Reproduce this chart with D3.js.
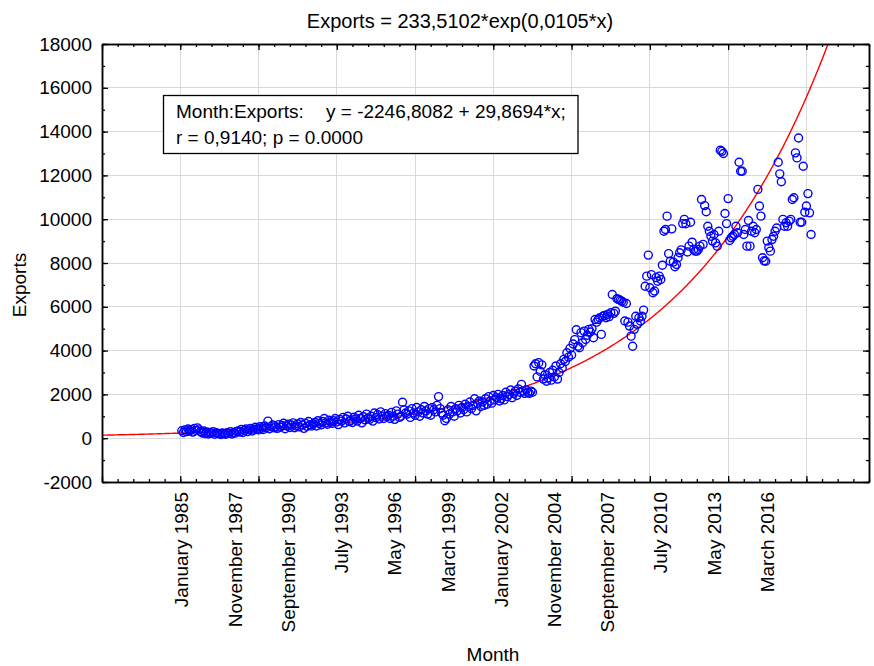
<!DOCTYPE html>
<html><head><meta charset="utf-8">
<script src="https://cdn.jsdelivr.net/npm/d3@7"></script>
<style>
body{margin:0;background:#fff}
text{font-family:"Liberation Sans",Arial,sans-serif;fill:#000}
</style>
</head><body><svg id="c" width="874" height="666"></svg>
<script>
// ---- data (month index 1 = January 1985) ----
const exportsValues = [
 340,260,380,300,420,330,390,280,450,350,470,380,
 300,240,330,210,280,190,260,230,300,180,250,220,
 200,170,240,210,180,250,220,300,190,260,230,310,
 330,280,400,260,350,420,300,380,450,330,410,500,
 420,380,520,460,400,560,480,780,430,530,600,470,
 520,450,620,500,580,680,430,560,640,490,600,700,
 480,560,650,520,720,600,450,680,540,760,620,560,
 650,720,560,800,680,610,760,900,700,640,820,740,
 680,800,900,740,620,860,780,950,700,880,1000,760,
 820,720,960,880,780,1050,900,700,980,840,1100,920,
 860,1000,780,1150,940,1080,880,1200,1000,900,1120,980,
 1050,900,1180,1000,860,1250,1100,950,1000,1640,1300,1150,
 1100,1250,950,1350,1150,1050,1400,1200,1000,1300,1150,1450,
 1250,1100,1350,1050,1400,1300,1200,1500,1900,1350,1150,1050,
 800,900,1300,1100,1450,1200,1000,1350,1250,1500,1150,1400,
 1300,1550,1200,1450,1650,1350,1500,1800,1250,1600,1700,1450,
 1650,1500,1800,1550,1900,1700,1600,1950,1750,1850,2000,1700,
 1800,1950,1750,2100,1900,2000,2200,1850,2050,2150,1950,2250,
 2100,2460,2150,2050,2200,2100,2050,2150,2100,3300,3400,2800,
 3450,3050,3350,2700,2900,2600,2750,3000,2650,3100,2800,3300,
 2700,3000,3400,3200,3600,3500,3900,3700,4100,3800,4300,4500,
 4950,4200,4130,4820,4360,4890,4510,4700,4970,4850,5000,4590,
 5420,5300,5420,5500,4740,5570,5600,5500,5650,5550,5730,6560,
 5700,5800,6370,6340,6300,6260,6210,5350,6150,5300,5120,4660,
 4200,4970,5570,5200,5500,5350,5570,5850,6940,7400,8360,6870,
 7470,6640,6720,7330,7170,7400,7250,7900,9450,9530,10140,8430,
 8080,9560,8040,7830,7930,8240,8470,8600,9800,9990,9790,8500,
 8770,9860,8950,8620,8540,8540,8620,8770,10900,8850,10620,10340,
 9680,9450,9220,9000,9300,8920,8770,9450,13150,13100,13000,10260,
 9800,10940,9030,9150,9220,9300,9680,9380,12600,12190,12190,9300,
 9530,8770,9940,8770,9450,9680,9380,9530,11360,10600,10140,8240,
 8100,8080,9000,8700,8540,9070,9220,9450,9600,12600,12070,11710,
 9990,9680,9840,9680,9910,9990,10900,10980,13030,12800,13710,9860,
 9860,12420,10320,10600,11170,10290,9300
];
const labelIndices = [1,35,69,103,137,171,205,239,273,307,341,375];
const labelTexts = ["January 1985","November 1987","September 1990","July 1993","May 1996","March 1999",
  "January 2002","November 2004","September 2007","July 2010","May 2013","March 2016"];
const yTickValues = [-2000,0,2000,4000,6000,8000,10000,12000,14000,16000,18000];
const fitA = 233.5102, fitB = 0.0105;
const titleText = "Exports = 233,5102*exp(0,0105*x)";
const legendLine1a = "Month:Exports:";
const legendLine1b = "y = -2246,8082 + 29,8694*x;";
const legendLine2 = "r = 0,9140; p = 0.0000";

// ---- layout ----
const svg = d3.select("#c");
const L=102, R=869, T=44, B=482;
const x = d3.scaleLinear().domain([-50,440]).range([L,R]);
const y = d3.scaleLinear().domain([-2000,18000]).range([B,T]);
const FS = 19;

// grid
const gx = d3.range(0,441,50).filter(v=>v>-50 && v<440);
svg.append("g").selectAll("line").data(gx).join("line")
  .attr("x1",d=>x(d)).attr("x2",d=>x(d)).attr("y1",T).attr("y2",B)
  .attr("stroke","#d9d9d9").attr("stroke-width",1).attr("shape-rendering","crispEdges");
svg.append("g").selectAll("line").data(yTickValues.filter(v=>v>-2000&&v<18000)).join("line")
  .attr("x1",L).attr("x2",R).attr("y1",d=>y(d)).attr("y2",d=>y(d))
  .attr("stroke","#d9d9d9").attr("stroke-width",1).attr("shape-rendering","crispEdges");

// clip
svg.append("clipPath").attr("id","pc").append("rect").attr("x",L).attr("y",T).attr("width",R-L).attr("height",B-T);

// fit curve
const curvePts = d3.range(-50,440.01,0.5).map(v=>[v,fitA*Math.exp(fitB*v)]);
svg.append("path").attr("clip-path","url(#pc)")
  .attr("d", d3.line().x(d=>x(d[0])).y(d=>y(d[1]))(curvePts))
  .attr("fill","none").attr("stroke","#ff0000").attr("stroke-width",1.4);

// points
svg.append("g").attr("clip-path","url(#pc)").selectAll("circle")
  .data(exportsValues.map((v,i)=>[i+1,v])).join("circle")
  .attr("cx",d=>x(d[0])).attr("cy",d=>y(d[1])).attr("r",4)
  .attr("fill","none").attr("stroke","#0000ff").attr("stroke-width",1.4);

// axes frame with inward ticks
function axisG(axis, tr){
  const g = svg.append("g").attr("transform",tr).call(axis);
  g.selectAll("path.domain").attr("stroke","#000").attr("stroke-width",1.5);
  g.selectAll(".tick line").attr("stroke","#000").attr("stroke-width",1.3);
  return g;
}
const xMajor = d3.range(-50,441,50), xMinor = d3.range(-50,441,10);
const yMinor = d3.range(-2000,18001,1000);
// minor
axisG(d3.axisBottom(x).tickValues(xMinor).tickSize(-3).tickFormat("").tickSizeOuter(0), `translate(0,${B})`);
axisG(d3.axisTop(x).tickValues(xMinor).tickSize(-3).tickFormat("").tickSizeOuter(0), `translate(0,${T})`);
axisG(d3.axisLeft(y).tickValues(yMinor).tickSize(-3).tickFormat("").tickSizeOuter(0), `translate(${L},0)`);
axisG(d3.axisRight(y).tickValues(yMinor).tickSize(-3).tickFormat("").tickSizeOuter(0), `translate(${R},0)`);
// major
axisG(d3.axisBottom(x).tickValues(xMajor).tickSize(-6).tickFormat("").tickSizeOuter(0), `translate(0,${B})`);
axisG(d3.axisTop(x).tickValues(xMajor).tickSize(-6).tickFormat("").tickSizeOuter(0), `translate(0,${T})`);
const yAx = axisG(d3.axisLeft(y).tickValues(yTickValues).tickSize(-6).tickPadding(10).tickFormat(d=>String(d)).tickSizeOuter(0), `translate(${L},0)`);
yAx.selectAll("text").style("font-size",FS+"px").attr("fill","#000").style("font-family","Liberation Sans, Arial, sans-serif");
axisG(d3.axisRight(y).tickValues(yTickValues).tickSize(-6).tickFormat("").tickSizeOuter(0), `translate(${R},0)`);

// x category labels
svg.append("g").selectAll("text").data(labelIndices.map((d,i)=>[d,labelTexts[i]])).join("text")
  .attr("transform",d=>`translate(${x(d[0])},${B+10}) rotate(-90)`)
  .attr("text-anchor","end").attr("dy","0.35em").style("font-size",FS+"px").text(d=>d[1]);

// titles
svg.append("text").attr("x",460).attr("y",28).attr("text-anchor","middle").style("font-size","20px").text(titleText);
svg.append("text").attr("transform","translate(26,285) rotate(-90)").attr("text-anchor","middle").style("font-size",FS+"px").text("Exports");
svg.append("text").attr("x",493).attr("y",661).attr("text-anchor","middle").style("font-size",FS+"px").text("Month");

// legend box
svg.append("rect").attr("x",163.5).attr("y",95.5).attr("width",414.5).attr("height",58)
  .attr("fill","#fff").attr("stroke","#000").attr("stroke-width",1.3);
svg.append("text").attr("x",176).attr("y",118).style("font-size",FS+"px").text(legendLine1a);
svg.append("text").attr("x",326).attr("y",118).style("font-size",FS+"px").text(legendLine1b);
svg.append("text").attr("x",176).attr("y",144).style("font-size",FS+"px").text(legendLine2);
</script></body></html>
